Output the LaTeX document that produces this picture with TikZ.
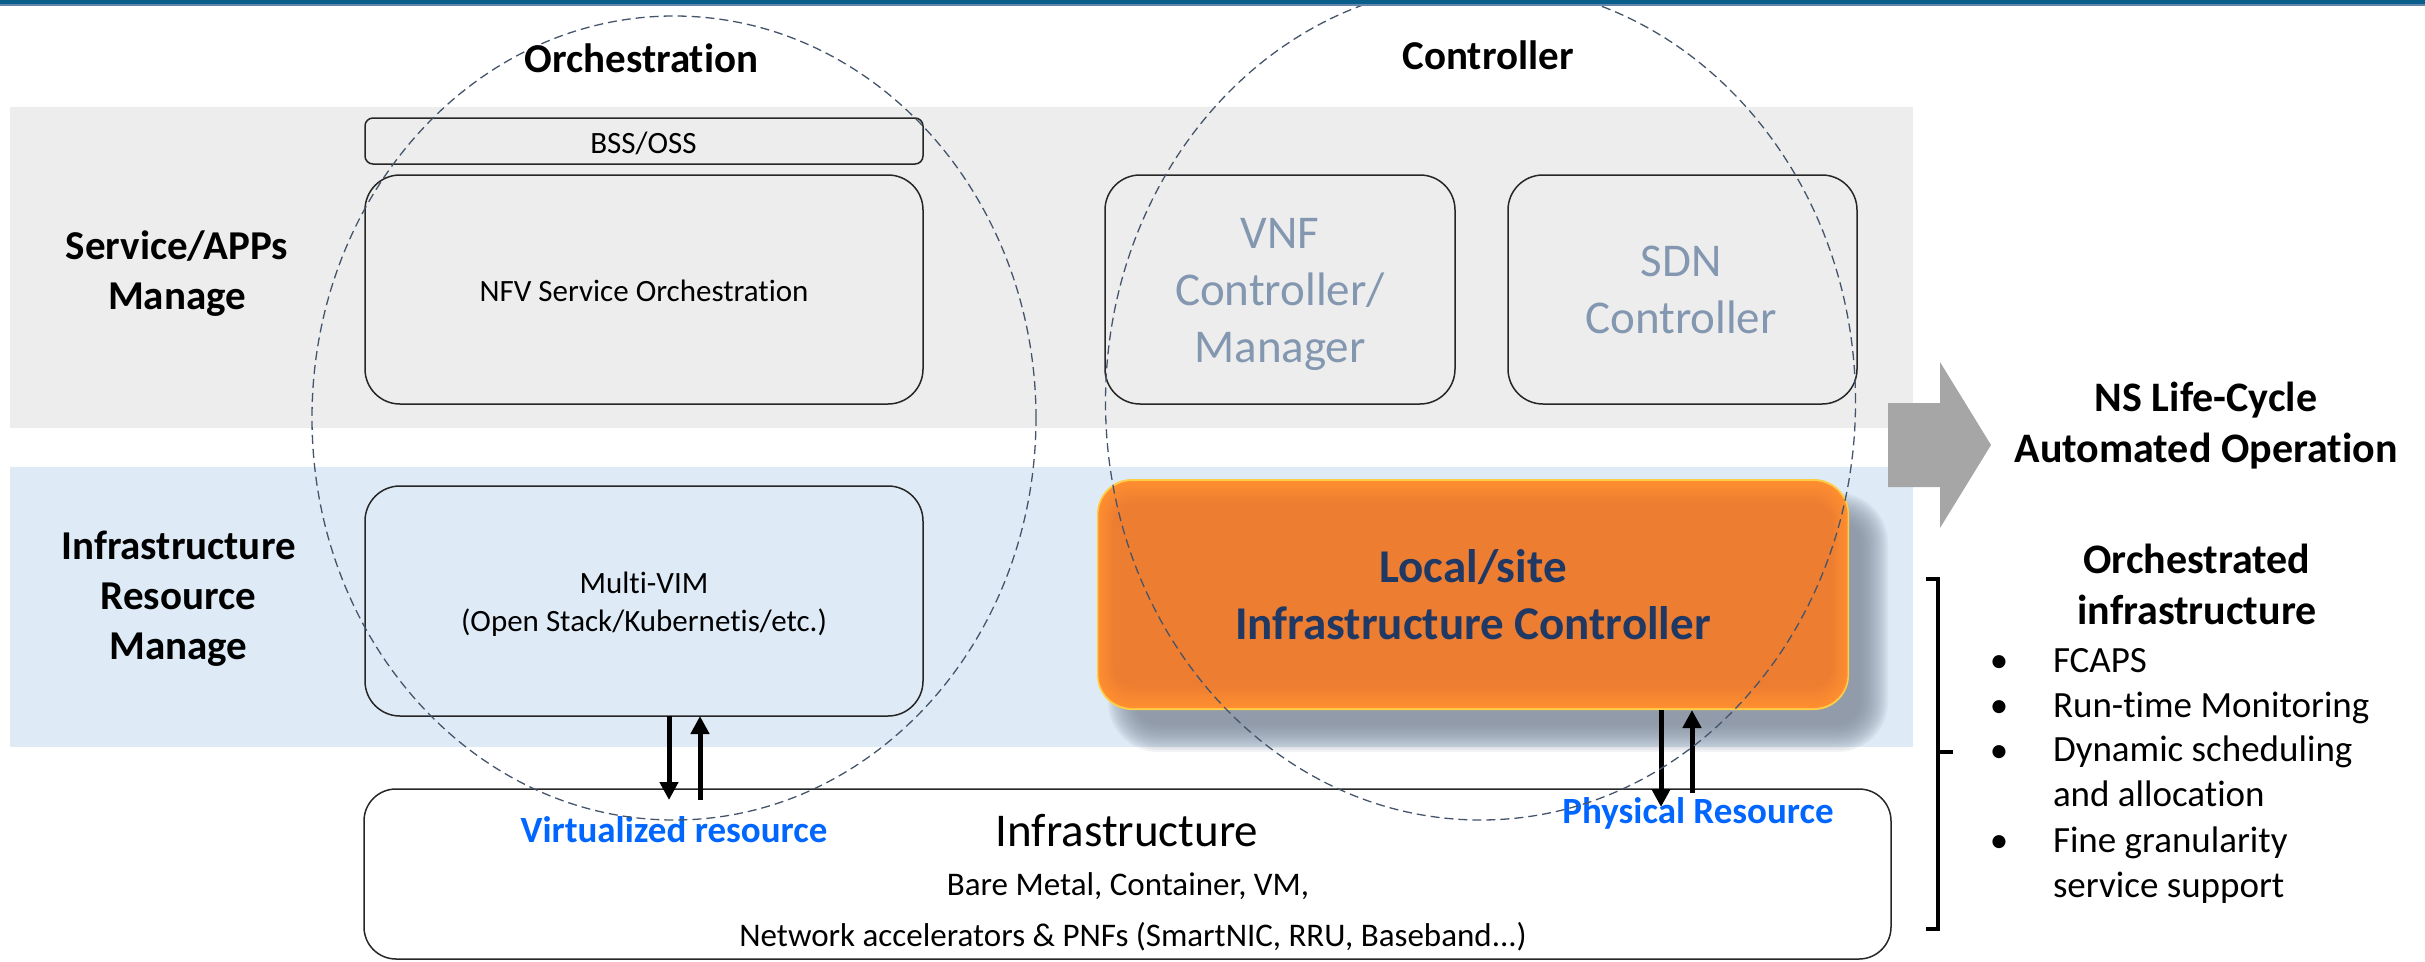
\documentclass[tikz,border=0pt]{standalone}
\usepackage{fontspec}
\setmainfont{Carlito}[Ligatures={TeX,NoCommon}]
\usetikzlibrary{arrows.meta,shapes.geometric,calc}

\definecolor{bandgray}{RGB}{237,237,237}
\definecolor{bandblue}{RGB}{222,235,247}
\definecolor{ringcol}{RGB}{68,84,106}
\definecolor{mutedtxt}{RGB}{132,151,176}
\definecolor{navytxt}{RGB}{31,56,100}
\definecolor{linkblue}{RGB}{0,102,255}
\definecolor{arrowgray}{RGB}{166,166,166}
\definecolor{orangecore}{RGB}{236,125,49}
\definecolor{orangeedge}{RGB}{255,142,48}
\definecolor{orangerim}{RGB}{255,206,72}
\definecolor{shadowcol}{RGB}{130,140,155}
\definecolor{topbar}{RGB}{10,94,140}
\definecolor{topbarline}{RGB}{100,134,172}

\newcommand\fsz[2]{\fontsize{#1}{#2}\selectfont}

\begin{document}
\begin{tikzpicture}[x=1pt,y=-1pt,
  lbl/.style={inner sep=0pt,outer sep=0pt,align=center},
  headlbl/.style={lbl,font=\fsz{41}{50}\bfseries},
  box/.style={draw=black!85,line width=1.5pt,rounded corners=35pt,inner sep=0pt,outer sep=0pt},
  boxtxt/.style={lbl,font=\fsz{31}{38}},
  ctrltxt/.style={lbl,font=\fsz{47}{57},text=mutedtxt},
  ring/.style={ellipse,draw=ringcol,line width=1.3pt,dash pattern=on 9pt off 5pt,inner sep=0pt,outer sep=0pt},
  flow/.style={line width=5pt,-{Triangle[length=18pt,width=18pt]}},
  restxt/.style={lbl,font=\fsz{37}{45}\bfseries,text=linkblue},
  sidehead/.style={lbl,font=\fsz{42}{51}\bfseries},
  itemtxt/.style={lbl,align=left,anchor=west,font=\fsz{37}{45}},
  dot/.style={lbl,font=\fsz{37}{45}},
]
\useasboundingbox (0,0) rectangle (2425,961);

% layer bands
\fill[bandgray] (10,107) rectangle (1913,428);
\fill[bandblue] (10,467) rectangle (1913,747);

% outcome arrow
\fill[arrowgray] (1888,403) -- (1940,403) -- (1940,362) -- (1991,445)
  -- (1940,528) -- (1940,487) -- (1888,487) -- cycle;

% orchestration column
\node[box,rounded corners=8pt,minimum width=558pt,minimum height=46pt] (bss) at (644,141) {};
\node[boxtxt] (bsstxt) at (643.5,145.5) {\strut BSS/OSS};
\node[box,minimum width=558pt,minimum height=229pt] (nfv) at (644,289.5) {};
\node[boxtxt] (nfvtxt) at (644,294) {\strut NFV Service Orchestration};
\node[box,minimum width=558pt,minimum height=230pt] (mvim) at (644,601) {};
\node[boxtxt] (mvimtxt) at (644,605) {\strut Multi-VIM\\\strut (Open Stack/Kubernetis/etc.)};

% controller column
\node[box,minimum width=350pt,minimum height=229pt] (vnf) at (1280,289.5) {};
\node[ctrltxt] (vnftxt) at (1280,294) {\strut VNF\\\strut Controller/\\\strut Manager};
\node[box,minimum width=349pt,minimum height=229pt] (sdn) at (1682.5,289.5) {};
\node[ctrltxt] (sdntxt) at (1681,294) {\strut SDN\\\strut Controller};

% local/site controller with soft shadow and glowing rim
\node[inner sep=0pt,outer sep=0pt,minimum width=752pt,minimum height=231pt] (lic) at (1473,594.5) {};
\foreach \e in {-14,-12,...,14} {
  \fill[shadowcol,opacity=0.1,rounded corners={36+\e}]
    ($(lic.north west)+(25-\e,28-\e)$) rectangle ($(lic.south east)+(25+\e,28+\e)$);
}
\fill[orangerim,rounded corners=35pt] (lic.north west) rectangle (lic.south east);
\foreach \i in {0,...,10} {
  \pgfmathsetmacro\d{2+2.2*\i}
  \pgfmathsetmacro\p{10*\i}
  \fill[orangecore!\p!orangeedge,rounded corners={35-\d*0.6}]
    ($(lic.north west)+(\d*0.7,\d)$) rectangle ($(lic.south east)+(-\d*0.7,-\d)$);
}
\node[lbl,font=\fsz{47}{57}\bfseries,text=navytxt] (lictxt) at (1473,600)
  {\strut Local/site\\\strut Infrastructure Controller};

% infrastructure layer
\node[box,rounded corners=32pt,minimum width=1527pt,minimum height=170pt] (infra) at (1127.5,874) {};
\node[lbl,font=\fsz{47}{57}] (infratitle) at (1127,835) {\strut Infrastructure};
\node[lbl,font=\fsz{33}{40}] (infraone) at (1128,887) {\strut Bare Metal, Container, VM,};
\node[lbl,font=\fsz{33}{40}] (infratwo) at (1133,938) {\strut Network accelerators \& PNFs (SmartNIC, RRU, Baseband...)};

% resource exchanges
\coordinate (vdn) at (669,800);
\coordinate (vup) at (700,800);
\draw[flow] (mvim.south -| vdn) -- (vdn);
\draw[flow] (vup) -- (mvim.south -| vup);
\coordinate (pdn) at (1661,807);
\coordinate (pup) at (1692,793);
\draw[flow] (lic.south -| pdn) -- (pdn);
\draw[flow] (pup) -- (lic.south -| pup);
\node[restxt] (virtres) at (674,833) {\strut Virtualized resource};
\node[restxt] (physres) at (1698,814) {\strut Physical Resource};

% row labels
\node[headlbl] (svclbl) at (177,274) {\strut Service/APPs\\\strut Manage};
\node[headlbl] (irmlbl) at (178.5,599) {\strut Infrastructure\\\strut Resource\\\strut Manage};

% grouping rings and their titles
\node[ring,minimum width=724pt,minimum height=804pt] (orchring) at (674,418) {};
\node[ring,minimum width=750pt,minimum height=836pt] (ctrlring) at (1480.5,402) {};
\node[headlbl] (orchlbl) at (641.5,62) {\strut Orchestration};
\node[headlbl] (ctrllbl) at (1488,59) {\strut Controller};

% right-hand summary
\node[sidehead] (nshead) at (2206,427) {\strut NS Life-Cycle\\\strut Automated Operation};
\node[sidehead] (orchinfra) at (2197,589) {\strut Orchestrated\\\strut infrastructure};
\draw[line width=3.5pt] (1926,579) -- (1938,579) -- (1938,929) -- (1926,929);
\draw[line width=3.5pt] (1938,752) -- (1953,752);
\node[dot] (b1) at (1999,663) {\strut\textbullet};
\node[dot] (b2) at (1999,708) {\strut\textbullet};
\node[dot] (b3) at (1999,753) {\strut\textbullet};
\node[dot] (b4) at (1999,843) {\strut\textbullet};
\node[itemtxt] (i1) at (2053,663) {\strut FCAPS};
\node[itemtxt] (i2) at (2053,708) {\strut Run-time Monitoring};
\node[itemtxt] (i3) at (2053,775) {\strut Dynamic scheduling\\\strut and allocation};
\node[itemtxt] (i4) at (2053,865.5) {\strut Fine granularity\\\strut service support};

% header strip
\fill[topbar] (0,0) rectangle (2425,4);
\fill[topbarline] (0,4) rectangle (2425,6);
\end{tikzpicture}
\end{document}
